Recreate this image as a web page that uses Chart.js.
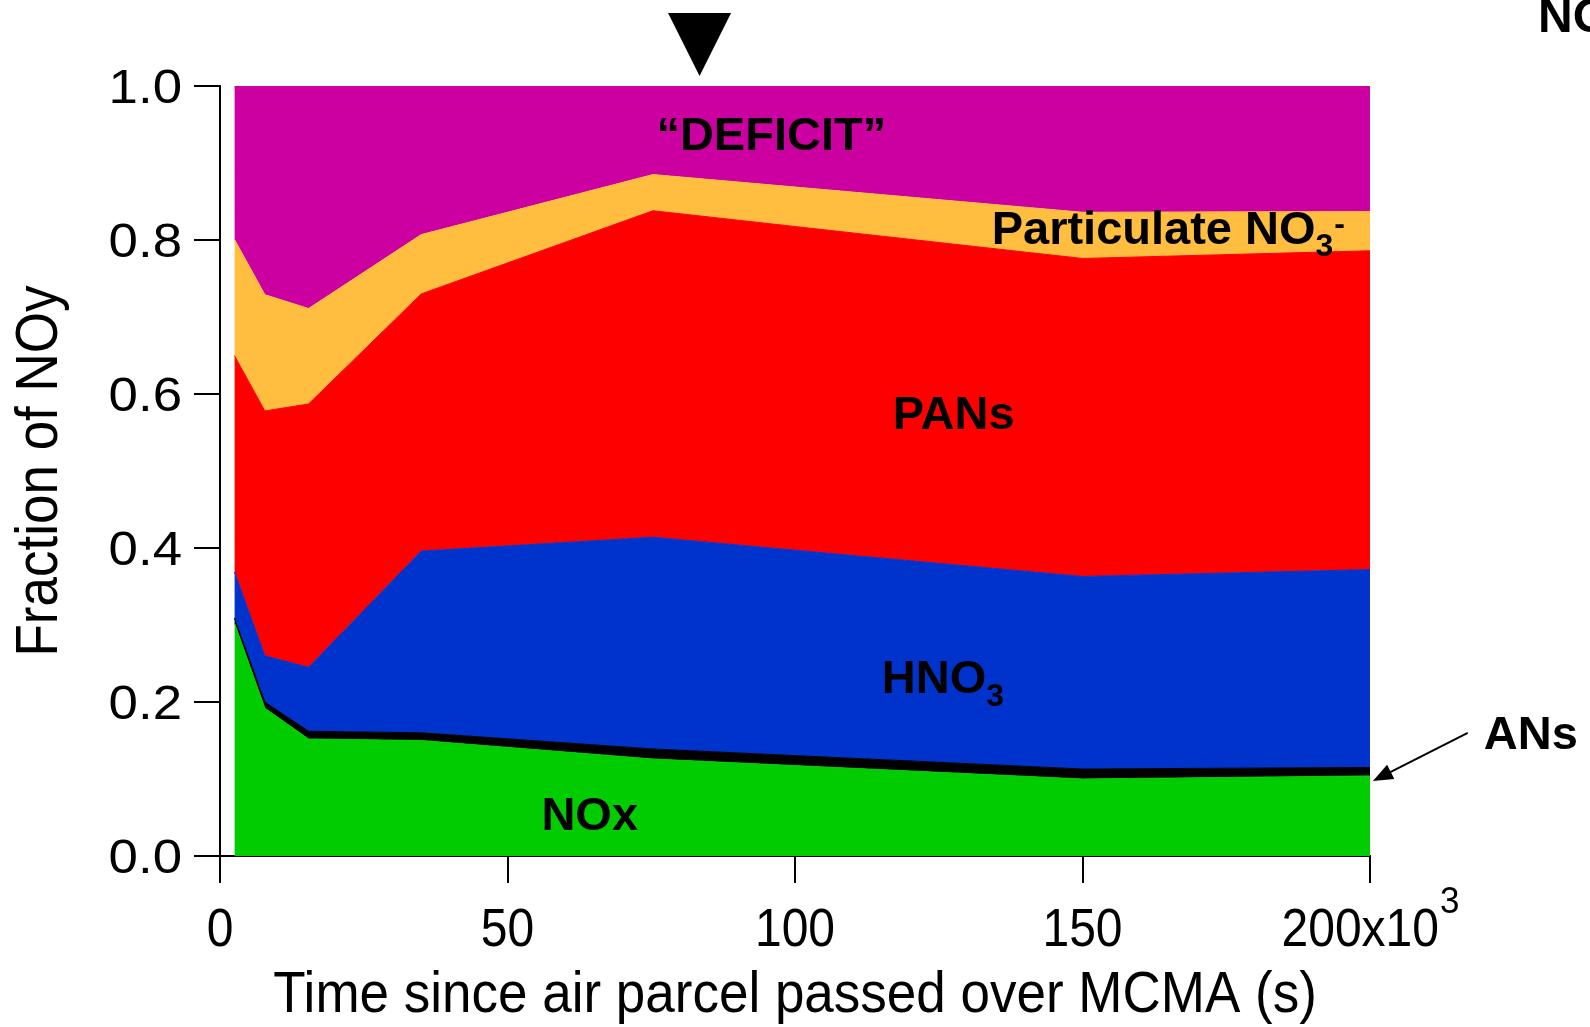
<!DOCTYPE html>
<html>
<head>
<meta charset="utf-8">
<script src="https://cdn.jsdelivr.net/npm/chart.js@4"></script>
<style>
  html, body { margin: 0; padding: 0; background: #fff; }
  #wrap { width: 1590px; height: 1027px; }
</style>
</head>
<body>
<div id="wrap"><canvas id="chart-noy" width="1590" height="1027"></canvas></div>
<script>
// time since the air parcel passed over MCMA (s)
const times = [2500, 7800, 15400, 35000, 75300, 150000, 200000];

// fraction of NOy for each group, stacked from the bottom up
const fracNOx = [0.303, 0.192, 0.152, 0.150, 0.126, 0.100, 0.104];
const fracANs = [0.006, 0.008, 0.010, 0.010, 0.013, 0.013, 0.011];
const fracHNO3 = [0.060, 0.060, 0.083, 0.236, 0.275, 0.250, 0.257];
const fracPANs = [0.281, 0.318, 0.342, 0.334, 0.424, 0.413, 0.414];
const fracParticulate = [0.151, 0.151, 0.124, 0.077, 0.047, 0.060, 0.051];
const fracDeficit = [0.199, 0.271, 0.289, 0.193, 0.115, 0.164, 0.163];

const yTicks = [0, 0.2, 0.4, 0.6, 0.8, 1.0];
const yTickLabels = ['0.0', '0.2', '0.4', '0.6', '0.8', '1.0'];
const xTicks = [0, 50000, 100000, 150000, 200000];
const xTickLabels = ['0', '50', '100', '150', '200x10'];

// time marked with the black triangle above the plot
const markerTime = 83400;

const FONT = "'Liberation Sans', Arial, sans-serif";

function serie(values) {
  return times.map((t, i) => ({ x: t, y: values[i] }));
}

function area(label, values, color, fill) {
  return {
    label: label,
    data: serie(values),
    backgroundColor: color,
    borderColor: color,
    borderWidth: 1,
    pointRadius: 0,
    tension: 0,
    fill: fill
  };
}

function drawText(c, text, x, y, o) {
  c.save();
  c.font = o.font;
  c.fillStyle = '#000';
  c.textAlign = o.align || 'left';
  c.textBaseline = 'alphabetic';
  c.translate(x, y);
  if (o.rotate) c.rotate(o.rotate);
  c.scale(o.sx || 1, o.sy || 1);
  c.fillText(text, 0, 0);
  const w = c.measureText(text).width * (o.sx || 1);
  c.restore();
  return w;
}

// labels written inside the areas: [text, baseline shift, size]
const areaLabels = [
  { x: 75900, y: 0.917, parts: [['\u201CDEFICIT\u201D', 0, 47]] },
  { x: 134200, y: 0.7945, parts: [['Particulate NO', 0, 47], ['3', 12, 32], ['-', -10, 32]] },
  { x: 117000, y: 0.555, parts: [['PANs', 0, 47]] },
  { x: 115100, y: 0.2116, parts: [['HNO', 0, 47], ['3', 13, 32]] },
  { x: 55900, y: 0.034, parts: [['NOx', 0, 47]] },
  { x: 219800, y: 0.139, parts: [['ANs', 0, 47]] }
];

// arrow pointing at the thin ANs band
const arrowFrom = { x: 217000, y: 0.160 };
const arrowTo = { x: 200500, y: 0.0975 };

const textPlugin = {
  id: 'textos',
  afterDraw(chart) {
    const c = chart.ctx;
    const xs = chart.scales.x;
    const ys = chart.scales.y;
    const area = chart.chartArea;

    // y tick labels
    yTicks.forEach((v, i) => {
      drawText(c, yTickLabels[i], 182, ys.getPixelForValue(v) + 17,
        { font: '48px ' + FONT, align: 'right', sx: 1.1 });
    });

    // x tick labels, last one with the x10^3 exponent
    xTicks.forEach((v, i) => {
      const px = xs.getPixelForValue(v);
      if (i === xTicks.length - 1) {
        c.save();
        c.font = '48px ' + FONT;
        const w1 = c.measureText(xTickLabels[i]).width;
        c.font = '35px ' + FONT;
        const w2 = c.measureText('3').width;
        c.restore();
        const start = px - (w1 + w2) / 2;
        drawText(c, xTickLabels[i], start, 946, { font: '48px ' + FONT, sy: 1.1 });
        drawText(c, '3', start + w1 + 1, 913, { font: '35px ' + FONT, sy: 1.07 });
      } else {
        drawText(c, xTickLabels[i], px, 946, { font: '48px ' + FONT, align: 'center', sy: 1.1 });
      }
    });

    // axis titles
    drawText(c, 'Time since air parcel passed over MCMA (s)', 795, 1012,
      { font: '53px ' + FONT, align: 'center', sy: 1.08 });
    drawText(c, 'Fraction of NOy', 57, 471,
      { font: '53px ' + FONT, align: 'center', rotate: -Math.PI / 2, sy: 1.12 });

    // area labels
    areaLabels.forEach(lab => {
      let px = xs.getPixelForValue(lab.x);
      const py = ys.getPixelForValue(lab.y);
      lab.parts.forEach(p => {
        px += drawText(c, p[0], px, py + p[1], { font: 'bold ' + p[2] + 'px ' + FONT });
        if (p[2] < 40) px += 1;
      });
    });

    // arrow to ANs
    const ax1 = xs.getPixelForValue(arrowFrom.x), ay1 = ys.getPixelForValue(arrowFrom.y);
    const ax2 = xs.getPixelForValue(arrowTo.x), ay2 = ys.getPixelForValue(arrowTo.y);
    const ang = Math.atan2(ay2 - ay1, ax2 - ax1);
    c.save();
    c.strokeStyle = '#000';
    c.fillStyle = '#000';
    c.lineWidth = 2;
    c.beginPath();
    c.moveTo(ax1, ay1);
    c.lineTo(ax2 - 14 * Math.cos(ang), ay2 - 14 * Math.sin(ang));
    c.stroke();
    c.beginPath();
    c.moveTo(ax2, ay2);
    c.lineTo(ax2 - 20 * Math.cos(ang) + 8 * Math.sin(ang), ay2 - 20 * Math.sin(ang) - 8 * Math.cos(ang));
    c.lineTo(ax2 - 20 * Math.cos(ang) - 8 * Math.sin(ang), ay2 - 20 * Math.sin(ang) + 8 * Math.cos(ang));
    c.closePath();
    c.fill();

    // triangle marker above the plot
    const mx = xs.getPixelForValue(markerTime);
    c.beginPath();
    c.moveTo(mx - 31.5, area.top - 73);
    c.lineTo(mx + 31.5, area.top - 73);
    c.lineTo(mx, area.top - 10);
    c.closePath();
    c.fill();
    c.restore();

    // piece of the neighbouring panel title, cut by the edge
    drawText(c, 'NO', 1538, 32, { font: 'bold 48px ' + FONT });
  }
};

const ctx = document.getElementById('chart-noy');

new Chart(ctx, {
  type: 'line',
  data: {
    datasets: [
      area('NOx', fracNOx, '#00cc00', 'origin'),
      area('ANs', fracANs, '#000000', '-1'),
      area('HNO3', fracHNO3, '#0033cc', '-1'),
      area('PANs', fracPANs, '#ff0000', '-1'),
      area('Particulate NO3-', fracParticulate, '#ffbe40', '-1'),
      area('Deficit', fracDeficit, '#cc00a0', '-1')
    ]
  },
  options: {
    responsive: false,
    animation: false,
    devicePixelRatio: 1,
    layout: {
      padding: { left: 0, right: 220, top: 86, bottom: 0 }
    },
    plugins: {
      legend: { display: false },
      tooltip: { enabled: false }
    },
    scales: {
      x: {
        type: 'linear',
        min: 0,
        max: 200000,
        afterBuildTicks: s => { s.ticks = xTicks.map(v => ({ value: v })); },
        ticks: { display: false },
        grid: { drawOnChartArea: false, tickLength: 27, color: '#000', lineWidth: 2 },
        border: { display: true, color: '#000', width: 2 },
        afterFit: s => { s.height = 171; }
      },
      y: {
        stacked: true,
        min: 0,
        max: 1,
        afterBuildTicks: s => { s.ticks = yTicks.map(v => ({ value: v })); },
        ticks: { display: false },
        grid: { drawOnChartArea: false, tickLength: 26, color: '#000', lineWidth: 2 },
        border: { display: true, color: '#000', width: 2 },
        afterFit: s => { s.width = 220; }
      }
    }
  },
  plugins: [textPlugin]
});
</script>
</body>
</html>
